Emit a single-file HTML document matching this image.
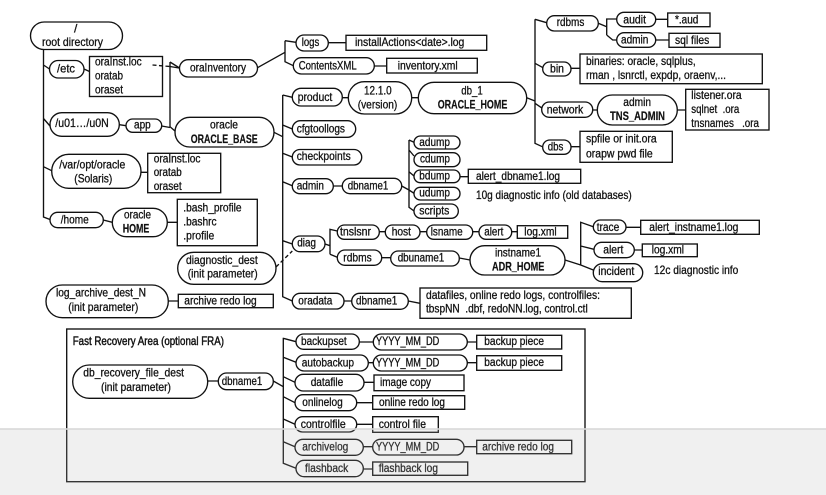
<!DOCTYPE html>
<html><head><meta charset="utf-8"><style>
html,body{margin:0;padding:0;background:#fff}
svg{display:block;filter:blur(.3px)}
text{font-family:"Liberation Sans",sans-serif;font-size:12px;fill:#111;stroke:#111;stroke-width:.3}
.b{font-weight:bold;stroke-width:.2}
.s rect,.s path{fill:none;stroke:#111;stroke-width:1.35}
</style></head><body>
<svg width="826" height="495" viewBox="0 0 826 495" xmlns="http://www.w3.org/2000/svg">
<rect width="826" height="495" fill="#fff"/>
<g class="s">
<!-- connectors -->
<path d="M43.5 49V217L50 219.5M43.5 65L49.5 69M43.5 118.5L50 126M43.5 166.7L51.7 170.7M84 69L89.5 71.5M119.3 124.7L126 125.7M161.7 126L170 127.5M170 62V126.7L175 131M170 62L179.5 68M257.5 67.7L285 52.3M285 40.7V61.7L293.3 65.7M285 40.7L296 42.3M328.3 42.7H346M374.3 66H386.7"/>
<path d="M152.5 65L170 66.5" stroke-dasharray="4 2.5"/>
<path d="M170 66.5L179 68"/>
<path d="M141 172.3H147.7M103.3 220L112.3 222.3M167.3 222.3H177.3M168.3 301H178.3M274 132.3L282.7 136.7M282.7 95V296.7L292.3 301M282.7 95L292.3 97.3M282.7 125L292.3 129M282.7 153.3L292.3 157M282.7 181.7L292.3 185.7M282.7 240.7L292.3 244"/>
<path d="M276 267L292.3 251" stroke-dasharray="4 2.5"/>
<path d="M342.3 97.7H348.3M411.7 97.7H418.3M526.7 97.7L535 101M535 19.3V143.3L542.3 146.7M535 19.3L546.7 22.7M535 63.3L543 67.7M535 103.3L542.3 108.3M571 68.3H580M592.7 110H597.3M677.3 110H685.7M571 146.7H580"/>
<path d="M598.3 23.3L606.7 26.7M606.7 35V19H616.7M606.7 35L612.7 40H616.7M655.7 19.3H667.7M655.7 40H669"/>
<path d="M333.3 186H342.3M401.7 186L409 190M409 140V207.3L414 211M409 140L414 142.3M409 150L414 156M409 171.7L414 176M409 190L414 193.3M460 176.7H468.3"/>
<path d="M325 244L330 245.7M330 254.3V229.3L337.3 231M330 254.3L337.3 257.3M379.3 231.7H385.3M420 231.7H426.7M472.7 231.7H479M511.7 231.7H517.3M381.7 257.7H390.7M459.3 258L470 260M565 260L580.7 265L593.3 270M580.7 265V222.3L593.3 226.7M580.7 246L594 249.3M626 227.3H640.7M634.3 250H642.3M344 301H351.7M408.3 301L420 303.3"/>
<path d="M207.7 381H218.3M273.3 381L283.3 386.7M283.3 337.7V463.3L296 468.3M283.3 338.3L296 341.7M283.3 357.3L296 362.3M283.3 376.7L295 382.3M283.3 396.7L295 402.7M283.3 419L295 424.3M283.3 441.7L295 446.7"/>
<path d="M359.3 342H373.3M467.3 342H476.7M368.3 362.7H373.3M467.3 362.7H476.7M364 382.3H374M356.7 402.7H372.7M356.7 424.3H372.7M363.3 446.7H372.7M464 446.7H476.7M363.3 469H372.7"/>
<!-- pills -->
<rect x="30.5" y="22" width="92" height="27.5" rx="13.7"/>
<rect x="49.5" y="60.5" width="34.5" height="17.5" rx="8.7"/>
<rect x="179.5" y="59.7" width="78" height="17.3" rx="8.6"/>
<rect x="50" y="112.7" width="69.3" height="23.6" rx="11.8"/>
<rect x="126" y="119" width="35.7" height="13.3" rx="6.6"/>
<rect x="175" y="117.3" width="99" height="29.7" rx="14.8"/>
<rect x="51.7" y="154.3" width="89.3" height="34" rx="17"/>
<rect x="50" y="212.3" width="53.3" height="15.4" rx="7.7"/>
<rect x="112.3" y="208.3" width="55" height="28.4" rx="14.2"/>
<rect x="177.7" y="252.3" width="98.3" height="32" rx="16"/>
<rect x="46" y="285" width="122.3" height="32.7" rx="16.3"/>
<rect x="296" y="35" width="32.3" height="16" rx="8"/>
<rect x="293.3" y="57.7" width="81" height="16.3" rx="8.1"/>
<rect x="292.3" y="88.3" width="50" height="17.7" rx="8.8"/>
<rect x="348.3" y="81.7" width="63.4" height="32.3" rx="16.1"/>
<rect x="418.3" y="82.3" width="108.4" height="31.4" rx="15.7"/>
<rect x="292.3" y="120.7" width="63.4" height="16.6" rx="8.3"/>
<rect x="292.3" y="149.5" width="69.4" height="15.5" rx="7.7"/>
<rect x="292.3" y="178.7" width="41" height="15" rx="7.5"/>
<rect x="342.3" y="178.3" width="59.4" height="15.4" rx="7.7"/>
<rect x="292.3" y="236" width="32.7" height="15.7" rx="7.8"/>
<rect x="292.3" y="293.3" width="51.7" height="15.7" rx="7.8"/>
<rect x="351.7" y="293.3" width="56.6" height="16" rx="8"/>
<rect x="414" y="136" width="46" height="13" rx="6.5"/>
<rect x="414" y="152.7" width="46" height="14" rx="7"/>
<rect x="414" y="170" width="46" height="12.7" rx="6.3"/>
<rect x="414" y="187.3" width="46" height="12.7" rx="6.3"/>
<rect x="414" y="204" width="44.3" height="14.3" rx="7.1"/>
<rect x="337.3" y="225" width="42" height="14.3" rx="7.1"/>
<rect x="385.3" y="225" width="34.7" height="14.3" rx="7.1"/>
<rect x="426.7" y="225" width="46" height="14.3" rx="7.1"/>
<rect x="479" y="225" width="32.7" height="14.3" rx="7.1"/>
<rect x="337.3" y="250" width="44.4" height="15.3" rx="7.6"/>
<rect x="390.7" y="251" width="68.6" height="15" rx="7.5"/>
<rect x="470" y="245.7" width="95" height="29.3" rx="14.6"/>
<rect x="593.3" y="220" width="32.7" height="14" rx="7"/>
<rect x="594" y="242.3" width="40.3" height="15.4" rx="7.7"/>
<rect x="593.3" y="263.7" width="49.4" height="18" rx="9"/>
<rect x="546.7" y="15.7" width="51.6" height="15.3" rx="7.6"/>
<rect x="542.7" y="62" width="28.3" height="14" rx="7"/>
<rect x="541.7" y="102" width="51" height="15.3" rx="7.6"/>
<rect x="542.7" y="140" width="28.3" height="14.3" rx="7.1"/>
<rect x="616.7" y="12.3" width="39" height="14.4" rx="7.2"/>
<rect x="616.7" y="32.7" width="39" height="14.6" rx="7.3"/>
<rect x="597.3" y="95" width="80" height="30" rx="15"/>
<rect x="72.7" y="365" width="135" height="33.3" rx="16.6"/>
<rect x="218.3" y="373" width="55" height="16.7" rx="8.3"/>
<rect x="296" y="334" width="63.3" height="15.3" rx="7.6"/>
<rect x="373.3" y="334" width="94" height="16" rx="8"/>
<rect x="296" y="355" width="72.3" height="16" rx="8"/>
<rect x="373.3" y="355" width="94" height="16" rx="8"/>
<rect x="295" y="374.3" width="69" height="16.7" rx="8.3"/>
<rect x="295" y="394.7" width="61.7" height="16" rx="8"/>
<rect x="295" y="416.7" width="61.7" height="15.3" rx="7.6"/>
<rect x="295" y="439.3" width="68.3" height="16" rx="8"/>
<rect x="372.7" y="439.3" width="91.3" height="15.7" rx="7.8"/>
<rect x="296" y="460.3" width="67.3" height="16.4" rx="8.2"/>
<!-- boxes -->
<rect x="89.5" y="56.5" width="73" height="40"/>
<rect x="147.7" y="153.3" width="73" height="39.4"/>
<rect x="177.3" y="199.3" width="80" height="46.4"/>
<rect x="178.3" y="294.3" width="95" height="13.4"/>
<rect x="346" y="35.3" width="140.7" height="15"/>
<rect x="386.7" y="58.3" width="90.6" height="14.7"/>
<rect x="667.7" y="13" width="42.3" height="13.7"/>
<rect x="669" y="33.3" width="51" height="14"/>
<rect x="580" y="54" width="182.3" height="29.7"/>
<rect x="685.7" y="89.3" width="83.3" height="40.7"/>
<rect x="580" y="131.3" width="92.3" height="31"/>
<rect x="468.3" y="169.3" width="112.4" height="14"/>
<rect x="517.3" y="225.7" width="50.4" height="12.6"/>
<rect x="640.7" y="220.3" width="118.6" height="14"/>
<rect x="642.3" y="244" width="55" height="12.7"/>
<rect x="420" y="288" width="211.3" height="30.3"/>
<rect x="66.7" y="329" width="518.3" height="152.7"/>
<rect x="476.7" y="335.3" width="85" height="13.7"/>
<rect x="476.7" y="355.7" width="85" height="14.6"/>
<rect x="374" y="375" width="90" height="15.7"/>
<rect x="372.7" y="395.7" width="92" height="13.6"/>
<rect x="372.7" y="416.7" width="65.6" height="15.6"/>
<rect x="476.7" y="440.3" width="95" height="13.4"/>
<rect x="372.7" y="462" width="95" height="13.3"/>
</g>
<g>
<text x="74" y="32.5">/</text>
<text x="42" y="46" textLength="61" lengthAdjust="spacingAndGlyphs">root directory</text>
<text x="57" y="72.7" textLength="18" lengthAdjust="spacingAndGlyphs">/etc</text>
<text x="95" y="65.3" textLength="46.7" lengthAdjust="spacingAndGlyphs">oraInst.loc</text>
<text x="95" y="79.3" textLength="28" lengthAdjust="spacingAndGlyphs">oratab</text>
<text x="95" y="93.3" textLength="28" lengthAdjust="spacingAndGlyphs">oraset</text>
<text x="190" y="71.3" textLength="56" lengthAdjust="spacingAndGlyphs">oraInventory</text>
<text x="55.3" y="127" textLength="53.4" lengthAdjust="spacingAndGlyphs">/u01…/u0N</text>
<text x="134" y="128.7" textLength="16.7" lengthAdjust="spacingAndGlyphs">app</text>
<text x="210" y="128.7" textLength="28" lengthAdjust="spacingAndGlyphs">oracle</text>
<text class="b" x="190.7" y="143" textLength="67" lengthAdjust="spacingAndGlyphs">ORACLE_BASE</text>
<text x="59.3" y="168.3" textLength="66" lengthAdjust="spacingAndGlyphs">/var/opt/oracle</text>
<text x="74.3" y="182.3" textLength="38" lengthAdjust="spacingAndGlyphs">(Solaris)</text>
<text x="153.7" y="162.3" textLength="46.7" lengthAdjust="spacingAndGlyphs">oraInst.loc</text>
<text x="153.7" y="176" textLength="28" lengthAdjust="spacingAndGlyphs">oratab</text>
<text x="153.7" y="190" textLength="28" lengthAdjust="spacingAndGlyphs">oraset</text>
<text x="60.7" y="223.3" textLength="28" lengthAdjust="spacingAndGlyphs">/home</text>
<text x="124" y="218.3" textLength="27" lengthAdjust="spacingAndGlyphs">oracle</text>
<text class="b" x="122.7" y="232.3" textLength="26.6" lengthAdjust="spacingAndGlyphs">HOME</text>
<text x="183.3" y="211.7" textLength="58.3" lengthAdjust="spacingAndGlyphs">.bash_profile</text>
<text x="183.3" y="225.7" textLength="33.3" lengthAdjust="spacingAndGlyphs">.bashrc</text>
<text x="183.3" y="239.7" textLength="31" lengthAdjust="spacingAndGlyphs">.profile</text>
<text x="186" y="264" textLength="71.7" lengthAdjust="spacingAndGlyphs">diagnostic_dest</text>
<text x="187.7" y="277.7" textLength="70" lengthAdjust="spacingAndGlyphs">(init parameter)</text>
<text x="56" y="296.7" textLength="90" lengthAdjust="spacingAndGlyphs">log_archive_dest_N</text>
<text x="68.3" y="311" textLength="70" lengthAdjust="spacingAndGlyphs">(init parameter)</text>
<text x="184.3" y="304.3" textLength="72.4" lengthAdjust="spacingAndGlyphs">archive redo log</text>
<text x="301.7" y="46" textLength="17.6" lengthAdjust="spacingAndGlyphs">logs</text>
<text x="355" y="46" textLength="109.3" lengthAdjust="spacingAndGlyphs">installActions&lt;date&gt;.log</text>
<text x="298.7" y="69.3" textLength="58" lengthAdjust="spacingAndGlyphs">ContentsXML</text>
<text x="397.7" y="69.3" textLength="60" lengthAdjust="spacingAndGlyphs">inventory.xml</text>
<text x="297.7" y="101" textLength="34.6" lengthAdjust="spacingAndGlyphs">product</text>
<text x="364" y="94.3" textLength="27.7" lengthAdjust="spacingAndGlyphs">12.1.0</text>
<text x="357.7" y="108.3" textLength="39.6" lengthAdjust="spacingAndGlyphs">(version)</text>
<text x="461.3" y="94.3" textLength="21.4" lengthAdjust="spacingAndGlyphs">db_1</text>
<text class="b" x="437.7" y="108.3" textLength="69.6" lengthAdjust="spacingAndGlyphs">ORACLE_HOME</text>
<text x="296.7" y="132.3" textLength="48.3" lengthAdjust="spacingAndGlyphs">cfgtoollogs</text>
<text x="296.7" y="160" textLength="54" lengthAdjust="spacingAndGlyphs">checkpoints</text>
<text x="296.7" y="189.3" textLength="27.3" lengthAdjust="spacingAndGlyphs">admin</text>
<text x="347.7" y="189.3" textLength="40.6" lengthAdjust="spacingAndGlyphs">dbname1</text>
<text x="419.3" y="146" textLength="30.7" lengthAdjust="spacingAndGlyphs">adump</text>
<text x="420" y="162.7" textLength="30" lengthAdjust="spacingAndGlyphs">cdump</text>
<text x="419.3" y="179.3" textLength="30.7" lengthAdjust="spacingAndGlyphs">bdump</text>
<text x="419.3" y="196.7" textLength="30.7" lengthAdjust="spacingAndGlyphs">udump</text>
<text x="419.3" y="214.3" textLength="30" lengthAdjust="spacingAndGlyphs">scripts</text>
<text x="476" y="180" textLength="84" lengthAdjust="spacingAndGlyphs">alert_dbname1.log</text>
<text x="476" y="199" textLength="155.7" lengthAdjust="spacingAndGlyphs">10g diagnostic info (old databases)</text>
<text x="297.3" y="246.7" textLength="18.7" lengthAdjust="spacingAndGlyphs">diag</text>
<text x="340" y="235.7" textLength="31" lengthAdjust="spacingAndGlyphs">tnslsnr</text>
<text x="391.7" y="235.7" textLength="19.3" lengthAdjust="spacingAndGlyphs">host</text>
<text x="430.7" y="235.7" textLength="32" lengthAdjust="spacingAndGlyphs">lsname</text>
<text x="484.3" y="235.7" textLength="19" lengthAdjust="spacingAndGlyphs">alert</text>
<text x="524.3" y="235.7" textLength="32.4" lengthAdjust="spacingAndGlyphs">log.xml</text>
<text x="343.3" y="261.7" textLength="28.4" lengthAdjust="spacingAndGlyphs">rdbms</text>
<text x="397.7" y="261.7" textLength="46.6" lengthAdjust="spacingAndGlyphs">dbuname1</text>
<text x="495" y="256.7" textLength="46" lengthAdjust="spacingAndGlyphs">instname1</text>
<text class="b" x="492" y="270.7" textLength="52.3" lengthAdjust="spacingAndGlyphs">ADR_HOME</text>
<text x="596.7" y="231" textLength="22.6" lengthAdjust="spacingAndGlyphs">trace</text>
<text x="649.3" y="231" textLength="89" lengthAdjust="spacingAndGlyphs">alert_instname1.log</text>
<text x="603.3" y="253.3" textLength="20" lengthAdjust="spacingAndGlyphs">alert</text>
<text x="651.7" y="253.3" textLength="32.3" lengthAdjust="spacingAndGlyphs">log.xml</text>
<text x="598.3" y="275" textLength="36" lengthAdjust="spacingAndGlyphs">incident</text>
<text x="654" y="274" textLength="84.3" lengthAdjust="spacingAndGlyphs">12c diagnostic info</text>
<text x="298.3" y="304.3" textLength="34" lengthAdjust="spacingAndGlyphs">oradata</text>
<text x="356" y="304.3" textLength="41.3" lengthAdjust="spacingAndGlyphs">dbname1</text>
<text x="426" y="299" textLength="174" lengthAdjust="spacingAndGlyphs">datafiles, online redo logs, controlfiles:</text>
<text x="426" y="312.7" textLength="161.7" lengthAdjust="spacingAndGlyphs" xml:space="preserve">tbspNN  .dbf, redoNN.log, control.ctl</text>
<text x="556.7" y="26" textLength="27.6" lengthAdjust="spacingAndGlyphs">rdbms</text>
<text x="623.3" y="23.3" textLength="22.7" lengthAdjust="spacingAndGlyphs">audit</text>
<text x="621" y="43.3" textLength="27.3" lengthAdjust="spacingAndGlyphs">admin</text>
<text x="675" y="23.3" textLength="23.3" lengthAdjust="spacingAndGlyphs">*.aud</text>
<text x="675" y="44" textLength="34.3" lengthAdjust="spacingAndGlyphs">sql files</text>
<text x="550" y="72.3" textLength="14" lengthAdjust="spacingAndGlyphs">bin</text>
<text x="586" y="65" textLength="109.7" lengthAdjust="spacingAndGlyphs">binaries: oracle, sqlplus,</text>
<text x="586" y="79" textLength="140" lengthAdjust="spacingAndGlyphs">rman , lsnrctl, expdp, oraenv,...</text>
<text x="546.7" y="113.3" textLength="36.6" lengthAdjust="spacingAndGlyphs">network</text>
<text x="623.3" y="106" textLength="27.7" lengthAdjust="spacingAndGlyphs">admin</text>
<text class="b" x="610" y="120" textLength="55" lengthAdjust="spacingAndGlyphs">TNS_ADMIN</text>
<text x="691.3" y="99" textLength="50.3" lengthAdjust="spacingAndGlyphs">listener.ora</text>
<text x="691.3" y="113" textLength="48" lengthAdjust="spacingAndGlyphs" xml:space="preserve">sqlnet  .ora</text>
<text x="691.3" y="127" textLength="67.7" lengthAdjust="spacingAndGlyphs" xml:space="preserve">tnsnames   .ora</text>
<text x="547.7" y="150.3" textLength="15.6" lengthAdjust="spacingAndGlyphs">dbs</text>
<text x="586" y="142.7" textLength="70.7" lengthAdjust="spacingAndGlyphs">spfile or init.ora</text>
<text x="586" y="157.3" textLength="66.7" lengthAdjust="spacingAndGlyphs">orapw pwd file</text>
<text x="72.7" y="345" textLength="151.3" lengthAdjust="spacingAndGlyphs" style="stroke-width:.45">Fast Recovery Area (optional FRA)</text>
<text x="83.3" y="376.7" textLength="100.7" lengthAdjust="spacingAndGlyphs">db_recovery_file_dest</text>
<text x="101" y="391" textLength="70" lengthAdjust="spacingAndGlyphs">(init parameter)</text>
<text x="221.7" y="385" textLength="40.6" lengthAdjust="spacingAndGlyphs">dbname1</text>
<text x="301" y="345" textLength="45.7" lengthAdjust="spacingAndGlyphs">backupset</text>
<text x="376" y="345" textLength="63.3" lengthAdjust="spacingAndGlyphs">YYYY_MM_DD</text>
<text x="484.3" y="345" textLength="59.7" lengthAdjust="spacingAndGlyphs">backup piece</text>
<text x="301.7" y="366.7" textLength="52.3" lengthAdjust="spacingAndGlyphs">autobackup</text>
<text x="376" y="366.3" textLength="63.3" lengthAdjust="spacingAndGlyphs">YYYY_MM_DD</text>
<text x="484.3" y="366" textLength="59.7" lengthAdjust="spacingAndGlyphs">backup piece</text>
<text x="310.7" y="386" textLength="32.6" lengthAdjust="spacingAndGlyphs">datafile</text>
<text x="380" y="386" textLength="51" lengthAdjust="spacingAndGlyphs">image copy</text>
<text x="302.3" y="406" textLength="40.4" lengthAdjust="spacingAndGlyphs">onlinelog</text>
<text x="379" y="406" textLength="66" lengthAdjust="spacingAndGlyphs">online redo log</text>
<text x="300.7" y="428" textLength="45" lengthAdjust="spacingAndGlyphs">controlfile</text>
<text x="378.7" y="428" textLength="47.3" lengthAdjust="spacingAndGlyphs">control file</text>
<text x="302.3" y="450.7" textLength="46" lengthAdjust="spacingAndGlyphs">archivelog</text>
<text x="376" y="450.7" textLength="63.3" lengthAdjust="spacingAndGlyphs">YYYY_MM_DD</text>
<text x="482.3" y="450.7" textLength="71.7" lengthAdjust="spacingAndGlyphs">archive redo log</text>
<text x="305" y="472" textLength="43.3" lengthAdjust="spacingAndGlyphs">flashback</text>
<text x="378.7" y="472" textLength="59.3" lengthAdjust="spacingAndGlyphs">flashback log</text>
</g>
<!-- translucent band at the bottom -->
<rect x="0" y="429" width="826" height="66" fill="rgb(180,180,180)" fill-opacity=".2"/>
<rect x="0" y="428" width="826" height="2" fill="#d8d8d8" fill-opacity=".8"/>
</svg>
</body></html>
